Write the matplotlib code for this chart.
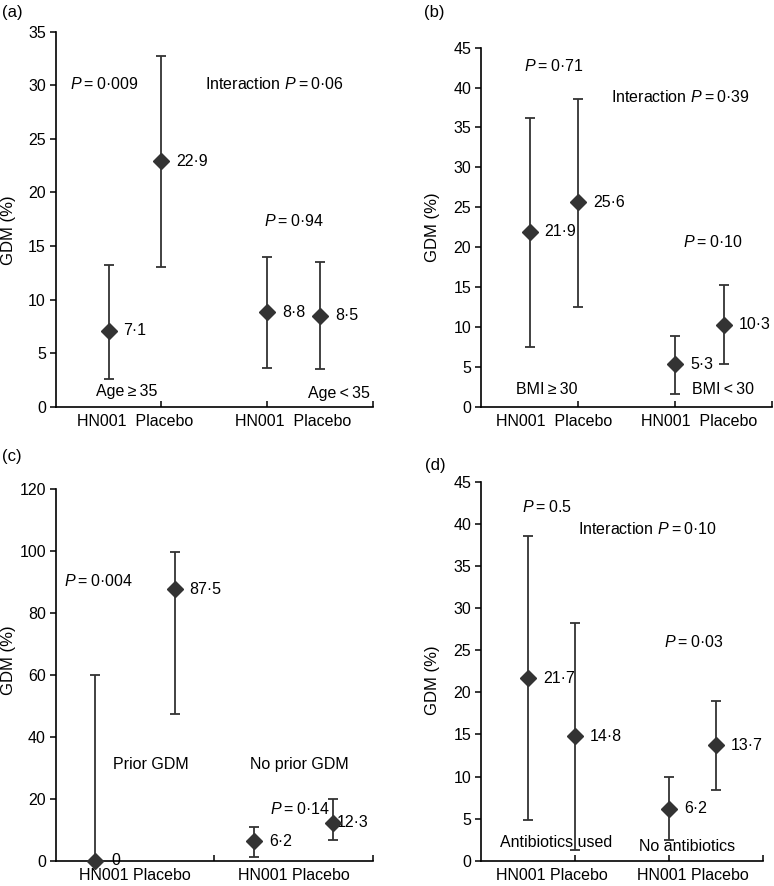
import matplotlib
matplotlib.use("Agg")
import matplotlib.pyplot as plt

plt.rcParams['font.family'] = ['Liberation Sans', 'DejaVu Sans']
plt.rcParams['mathtext.fontset'] = 'custom'
plt.rcParams['mathtext.rm'] = 'Liberation Sans'
plt.rcParams['mathtext.it'] = 'Liberation Sans:italic'

# GDM (%) point estimates and 95% CI, order: HN001, Placebo, HN001, Placebo
a_means = [7.1, 22.9, 8.8, 8.5]
a_lower = [2.6, 13.0, 3.6, 3.5]
a_upper = [13.2, 32.7, 14.0, 13.5]

b_means = [21.9, 25.6, 5.3, 10.3]
b_lower = [7.5, 12.5, 1.6, 5.4]
b_upper = [36.2, 38.6, 8.9, 15.3]

c_means = [0, 87.5, 6.2, 12.3]
c_lower = [0, 47.3, 1.2, 6.6]
c_upper = [60.0, 99.7, 10.8, 19.9]

d_means = [21.7, 14.8, 6.2, 13.7]
d_lower = [4.8, 1.3, 2.5, 8.4]
d_upper = [38.6, 28.2, 9.9, 19.0]

group_label = 'HN001  Placebo'
group_label_tight = 'HN001 Placebo'

MARK = '#333333'
FS = 11.5
W, H = 774, 886
TS = '\u2009'

fig = plt.figure(figsize=(W / 100, H / 100), dpi=100)


def rect(l, r, b, t):
    return [l / W, 1 - b / H, (r - l) / W, (b - t) / H]


def fmt(v):
    if v == 0:
        return '0'
    return ('%.1f' % v).replace('.', '\u00b7')


def pval(s, pre=''):
    return pre + '$P$' + TS + '=' + TS + s


def panel(r, means, lower, upper, xpos, xlim, ymax, ystep, tickx, labx, labtxt, dx):
    ax = fig.add_axes(r)
    lo = [m - l for m, l in zip(means, lower)]
    hi = [u - m for m, u in zip(means, upper)]
    ax.errorbar(xpos, means, yerr=[lo, hi], fmt='D', color=MARK, ms=8,
                capsize=3.5, elinewidth=1.3, capthick=1.3, clip_on=False, zorder=3)
    for x, m, d in zip(xpos, means, dx):
        ax.annotate(fmt(m), (x, m), xytext=(d, 0), textcoords='offset pixels',
                    ha='left', va='center', fontsize=FS)
    ax.set_xlim(*xlim)
    ax.set_ylim(0, ymax)
    ax.set_yticks(range(0, ymax + 1, ystep))
    ax.set_xticks(labx)
    ax.set_xticklabels([labtxt] * len(labx), fontsize=FS)
    ax.set_xticks(tickx, minor=True)
    ax.tick_params(axis='x', which='major', length=0, pad=5)
    ax.tick_params(axis='x', which='minor', direction='in', length=4, width=1.1)
    ax.tick_params(axis='y', direction='out', length=4, width=1.1, labelsize=FS, pad=3)
    for s in ['top', 'right']:
        ax.spines[s].set_visible(False)
    for s in ['left', 'bottom']:
        ax.spines[s].set_linewidth(1.2)
    return ax


def ptxt(ax, x, y, s, **kw):
    ax.text(x, y, s, ha='left', va='center', fontsize=FS, **kw)


six = [1, 2, 4, 5]
four = [0.5, 1.5, 2.5, 3.5]

# (a)
ax = panel(rect(55.7, 372.7, 406.7, 31.7), a_means, a_lower, a_upper, six, (0, 6),
           35, 5, [2, 4, 6], [1.5, 4.5], group_label, [15, 15, 15, 15])
ptxt(ax, 0.27, 30.1, pval('0\u00b7009'))
ptxt(ax, 2.82, 30.1, pval('0\u00b706', 'Interaction '))
ptxt(ax, 3.95, 17.3, pval('0\u00b794'))
ptxt(ax, 0.77, 1.4, 'Age' + TS + '\u2265' + TS + '35')
ptxt(ax, 4.77, 1.25, 'Age' + TS + '<' + TS + '35')

# (b)
ax = panel(rect(481, 772, 406.7, 47.7), b_means, b_lower, b_upper, six, (0, 6),
           45, 5, [2, 4, 6], [1.5, 4.5], group_label, [15, 15, 15, 15])
ptxt(ax, 0.88, 42.7, pval('0\u00b771'))
ptxt(ax, 2.69, 38.85, pval('0\u00b739', 'Interaction '))
ptxt(ax, 4.16, 20.6, pval('0\u00b710'))
ptxt(ax, 0.73, 2.2, 'BMI' + TS + '\u2265' + TS + '30')
ptxt(ax, 4.35, 2.1, 'BMI' + TS + '<' + TS + '30')

# (c)
ax = panel(rect(55.7, 372.7, 860.7, 488.7), c_means, c_lower, c_upper, four, (0, 4),
           120, 20, [1, 2, 3, 4], [1, 3], group_label_tight, [16, 15, 15, 4])
ptxt(ax, 0.1, 90.3, pval('0\u00b7004'))
ptxt(ax, 0.72, 31, 'Prior GDM')
ptxt(ax, 2.45, 31, 'No prior GDM')
ptxt(ax, 2.7, 16.8, pval('0\u00b714'))

# (d)
ax = panel(rect(481, 763, 860.7, 482), d_means, d_lower, d_upper, six, (0, 6),
           45, 5, [2, 4, 6], [1.5, 4.5], group_label_tight, [15, 15, 15, 15])
ptxt(ax, 0.87, 42.0, pval('0.5'))
ptxt(ax, 2.06, 39.45, pval('0\u00b710', 'Interaction '))
ptxt(ax, 3.89, 25.95, pval('0\u00b703'))
ptxt(ax, 0.41, 2.2, 'Antibiotics used')
ptxt(ax, 3.36, 1.7, 'No antibiotics')

# panel letters and y labels
for s, x, y in [('(a)', 2, 13), ('(b)', 424, 12), ('(c)', 2, 457), ('(d)', 425, 466)]:
    fig.text(x / W, 1 - y / H, s, ha='left', va='center', fontsize=12)
for x, y in [(9, 230), (432, 227), (9, 660), (432, 680)]:
    fig.text(x / W, 1 - y / H, 'GDM (%)', rotation=90, ha='center', va='center', fontsize=12)

fig.savefig('out.png', dpi=100)
